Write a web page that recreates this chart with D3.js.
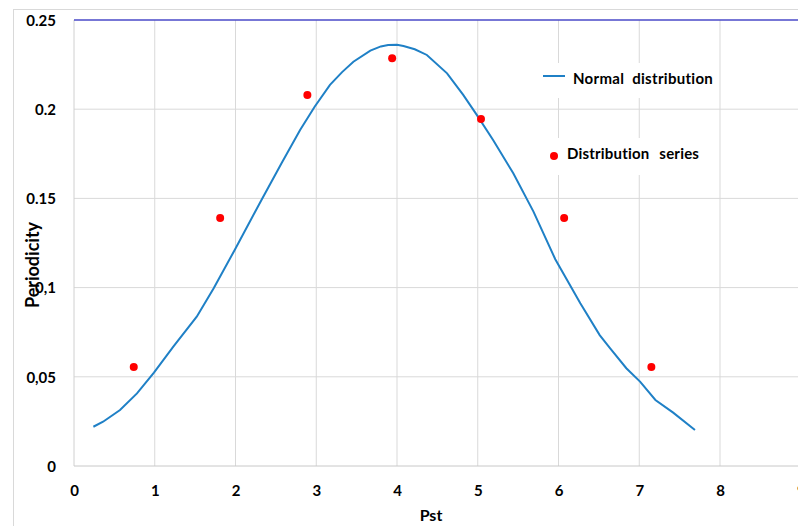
<!DOCTYPE html>
<html>
<head>
<meta charset="utf-8">
<script src="https://cdn.jsdelivr.net/npm/d3@7"></script>
<style>
  body { margin: 0; background: #fff; }
  text { font-family: Lato, "Open Sans", sans-serif; font-weight: bold; fill: #000; }
</style>
</head>
<body>
<div id="chart-area"></div>
<script>
// normal distribution curve
const curveX = [0.24, 0.36, 0.57, 0.78, 0.99, 1.23, 1.52, 1.73, 1.99, 2.32, 2.57, 2.80, 2.98, 3.17, 3.32, 3.46, 3.67, 3.80, 3.89, 4.00, 4.08, 4.22, 4.37, 4.62, 4.82, 4.99, 5.19, 5.44, 5.69, 5.96, 6.27, 6.51, 6.64, 6.84, 7.01, 7.20, 7.42, 7.69]
const curveY = [0.0220, 0.0248, 0.0314, 0.0407, 0.0523, 0.0669, 0.0837, 0.0996, 0.1211, 0.1490, 0.1697, 0.1883, 0.2014, 0.2136, 0.2208, 0.2266, 0.2328, 0.2352, 0.2360, 0.2361, 0.2354, 0.2336, 0.2304, 0.2201, 0.2080, 0.1967, 0.1827, 0.1641, 0.1426, 0.1159, 0.0912, 0.0734, 0.0660, 0.0548, 0.0473, 0.0370, 0.0299, 0.0202]

// distribution series points
const seriesX = [0.74, 1.81, 2.89, 3.94, 5.04, 6.07, 7.15]
const seriesY = [0.0555, 0.139, 0.208, 0.2285, 0.1945, 0.139, 0.0555]

const xTicks = [0, 1, 2, 3, 4, 5, 6, 7, 8, 9]
const yTicks = [0, 0.05, 0.1, 0.15, 0.2, 0.25]
const yTickLabels = ['0', '0,05', '0,1', '0.15', '0.2', '0.25']

const W = 798, H = 526
const margin = { left: 74, top: 20, right: -3, bottom: 60 }
const width = 800.75 - margin.left
const height = H - margin.top - margin.bottom

const svg = d3.select('#chart-area').append('svg')
    .attr('width', W)
    .attr('height', H)

// outer chart frame
svg.append('rect')
    .attr('x', 13.5).attr('y', 9.5)
    .attr('width', W).attr('height', H)
    .attr('fill', 'none')
    .attr('stroke', '#d9d9d9')

const g = svg.append('g')
    .attr('transform', `translate(${margin.left}, ${margin.top})`)

const xScale = d3.scaleLinear().domain([0, 9]).range([0, width])
const yScale = d3.scaleLinear().domain([0, 0.25]).range([height, 0])

// grid
g.selectAll('.vgrid')
    .data(xTicks.slice(1)).enter().append('line')
    .attr('x1', d => xScale(d)).attr('x2', d => xScale(d))
    .attr('y1', 0).attr('y2', height)
    .attr('stroke', '#d9d9d9')
g.selectAll('.hgrid')
    .data(yTicks.slice(1, -1)).enter().append('line')
    .attr('x1', 0).attr('x2', width)
    .attr('y1', d => yScale(d)).attr('y2', d => yScale(d))
    .attr('stroke', '#d9d9d9')

// axis lines
g.append('line')
    .attr('x1', 0).attr('x2', 0).attr('y1', 0).attr('y2', height)
    .attr('stroke', '#d0d0d0')
g.append('line')
    .attr('x1', 0).attr('x2', width).attr('y1', height).attr('y2', height)
    .attr('stroke', '#c8c8c8')
g.append('line')
    .attr('x1', 0).attr('x2', width).attr('y1', yScale(0.25)).attr('y2', yScale(0.25))
    .attr('stroke', '#4a4ac8').attr('stroke-width', 1.6)

// axes (labels only)
const yAxisCall = d3.axisLeft(yScale)
    .tickValues(yTicks)
    .tickSize(0)
    .tickFormat((d, i) => yTickLabels[i])
const yAxis = g.append('g').call(yAxisCall)
yAxis.select('.domain').remove()
yAxis.selectAll('text')
    .attr('x', -18)
    .attr('dy', '0.35em')
    .attr('font-size', '15px')
    .style('font-family', 'Lato, sans-serif')
    .style('font-weight', 'bold')

const xAxisCall = d3.axisBottom(xScale)
    .tickValues(xTicks)
    .tickSize(0)
    .tickFormat(d3.format('d'))
const xAxis = g.append('g')
    .attr('transform', `translate(0, ${height})`)
    .call(xAxisCall)
xAxis.select('.domain').remove()
xAxis.selectAll('text')
    .attr('y', 19)
    .attr('font-size', '15px')
    .style('font-family', 'Lato, sans-serif')
    .style('font-weight', 'bold')

// normal distribution line
const curveData = curveX.map((x, i) => ({ x, y: curveY[i] }))
g.append('path')
    .datum(curveData)
    .attr('fill', 'none')
    .attr('stroke', '#1f80c6')
    .attr('stroke-width', 2)
    .attr('d', d3.line().x(d => xScale(d.x)).y(d => yScale(d.y)))

// distribution series
const pts = seriesX.map((x, i) => ({ x, y: seriesY[i] }))
g.selectAll('circle')
    .data(pts).enter().append('circle')
    .attr('cx', d => xScale(d.x))
    .attr('cy', d => yScale(d.y))
    .attr('r', 4)
    .attr('fill', '#ff0000')

// legend
const leg1 = svg.append('g')
leg1.append('rect')
    .attr('x', 538).attr('y', 63).attr('width', 178).attr('height', 35)
    .attr('fill', '#fff')
leg1.append('line')
    .attr('x1', 543).attr('x2', 565).attr('y1', 76).attr('y2', 76)
    .attr('stroke', '#1f80c6').attr('stroke-width', 2)
leg1.append('text')
    .attr('x', 573).attr('y', 84)
    .attr('font-size', '15px')
    .attr('word-spacing', '4px')
    .attr('letter-spacing', '0.3px')
    .text('Normal distribution')

const leg2 = svg.append('g')
leg2.append('rect')
    .attr('x', 545).attr('y', 138).attr('width', 171).attr('height', 37)
    .attr('fill', '#fff')
leg2.append('circle')
    .attr('cx', 554).attr('cy', 156).attr('r', 4)
    .attr('fill', '#ff0000')
leg2.append('text')
    .attr('x', 567).attr('y', 159)
    .attr('font-size', '15px')
    .attr('word-spacing', '6px')
    .attr('letter-spacing', '0.2px')
    .text('Distribution series')

// axis titles
svg.append('text')
    .attr('x', 431)
    .attr('y', 521)
    .attr('font-size', '16px')
    .attr('text-anchor', 'middle')
    .text('Pst')

svg.append('text')
    .attr('transform', 'translate(39, 265) rotate(-90)')
    .attr('font-size', '18px')
    .attr('text-anchor', 'middle')
    .text('Periodicity')
</script>
</body>
</html>
